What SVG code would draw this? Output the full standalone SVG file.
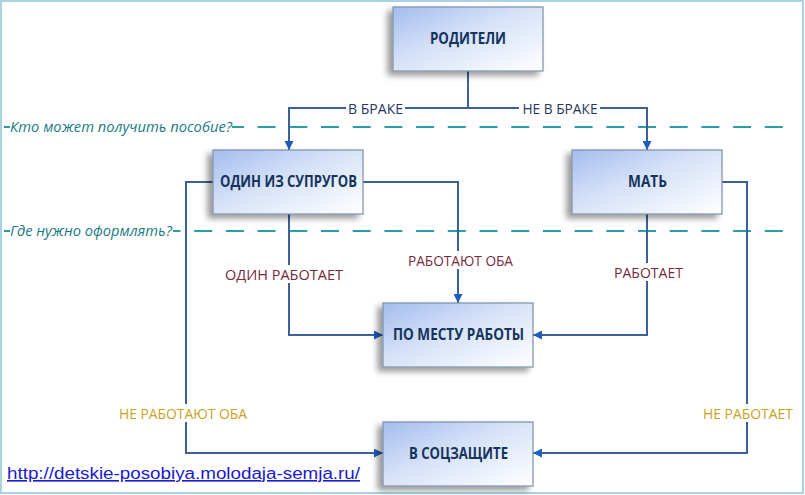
<svg xmlns="http://www.w3.org/2000/svg" width="805" height="495" viewBox="0 0 805 495">
<defs>
<linearGradient id="boxg" x1="0" y1="0" x2="1" y2="1">
<stop offset="0" stop-color="#a4bdee"/>
<stop offset="0.45" stop-color="#d6e2f8"/>
<stop offset="1" stop-color="#ffffff"/>
</linearGradient>
<filter id="sh" x="-20%" y="-20%" width="140%" height="150%">
<feGaussianBlur in="SourceAlpha" stdDeviation="3"/>
<feOffset dx="-5" dy="4" result="b"/>
<feComponentTransfer><feFuncA type="linear" slope="0.4"/></feComponentTransfer>
<feMerge><feMergeNode/><feMergeNode in="SourceGraphic"/></feMerge>
</filter>
<marker id="arr" markerUnits="userSpaceOnUse" markerWidth="10" markerHeight="9" refX="9" refY="4.5" orient="auto">
<path d="M0,0 L9,4.5 L0,9 z" fill="#1f5cbf"/>
</marker>
<style>
.box{fill:url(#boxg);stroke:#7d8fa6;stroke-width:1.2;filter:url(#sh)}
.bt{font-family:"Open Sans","Liberation Sans",sans-serif;font-weight:bold;font-size:15.5px;fill:#14345c;text-anchor:middle}
.conn{fill:none;stroke:#3a6298;stroke-width:2}
.lbl{font-family:"Open Sans","Liberation Sans",sans-serif;font-size:14.5px;text-anchor:middle}
.bg{fill:#ffffff}
.m{fill:#772a3e}
.g{fill:#c9a224}
.n{fill:#1f3864}
.dash{stroke:#2a9ea8;stroke-width:2;stroke-dasharray:18 13.7;fill:none}
.q{font-family:"Open Sans","Liberation Sans",sans-serif;font-style:italic;font-size:15px;fill:#1b7a84}
</style>
</defs>
<rect x="0" y="0" width="805" height="495" fill="#ffffff"/>
<rect x="1" y="1" width="802" height="492" fill="none" stroke="#a9d3e3" stroke-width="2"/>

<g id="guides">
<path class="dash" d="M4 127 H790"/>
<rect class="bg" x="10" y="116" width="222" height="20"/>
<text class="q" x="10" y="132" textLength="222" lengthAdjust="spacingAndGlyphs">Кто может получить пособие?</text>
<path class="dash" d="M4 231 H790"/>
<rect class="bg" x="10" y="220" width="163" height="20"/>
<text class="q" x="10" y="236" textLength="162" lengthAdjust="spacingAndGlyphs">Где нужно оформлять?</text>
</g>

<g id="connectors">
<path class="conn" d="M468 71 V108"/>
<path class="conn" d="M468 108 H289 V150" marker-end="url(#arr)"/>
<path class="conn" d="M468 108 H647 V150" marker-end="url(#arr)"/>
<path class="conn" d="M213 182 H186 V453 H383" marker-end="url(#arr)"/>
<path class="conn" d="M289 214 V335 H383" marker-end="url(#arr)"/>
<path class="conn" d="M363 182 H458 V303" marker-end="url(#arr)"/>
<path class="conn" d="M647 214 V335 H533" marker-end="url(#arr)"/>
<path class="conn" d="M722 182 H747 V453 H533" marker-end="url(#arr)"/>
</g>

<g id="labels">
<rect class="bg" x="346" y="100" width="59" height="16"/>
<text class="lbl n" x="375.5" y="114" textLength="55" lengthAdjust="spacingAndGlyphs">В БРАКЕ</text>
<rect class="bg" x="519" y="100" width="81" height="16"/>
<text class="lbl n" x="560" y="114" textLength="75" lengthAdjust="spacingAndGlyphs">НЕ В БРАКЕ</text>
<rect class="bg" x="222" y="265" width="124" height="18"/>
<text class="lbl m" x="284" y="280" textLength="118" lengthAdjust="spacingAndGlyphs">ОДИН РАБОТАЕТ</text>
<rect class="bg" x="405" y="251" width="111" height="18"/>
<text class="lbl m" x="460.5" y="266" textLength="105" lengthAdjust="spacingAndGlyphs">РАБОТАЮТ ОБА</text>
<rect class="bg" x="611" y="263" width="75" height="18"/>
<text class="lbl m" x="648.5" y="278" textLength="69" lengthAdjust="spacingAndGlyphs">РАБОТАЕТ</text>
<rect class="bg" x="116" y="404" width="134" height="18"/>
<text class="lbl g" x="183" y="419" textLength="128" lengthAdjust="spacingAndGlyphs">НЕ РАБОТАЮТ ОБА</text>
<rect class="bg" x="700" y="404" width="96" height="18"/>
<text class="lbl g" x="748" y="419" textLength="90" lengthAdjust="spacingAndGlyphs">НЕ РАБОТАЕТ</text>
</g>

<g id="node-parents">
<rect class="box" x="393" y="7" width="150" height="64"/>
<text class="bt" x="468" y="44" textLength="76" lengthAdjust="spacingAndGlyphs">РОДИТЕЛИ</text>
</g>
<g id="node-spouse">
<rect class="box" x="213" y="150" width="150" height="64"/>
<text class="bt" x="288.5" y="187" textLength="137" lengthAdjust="spacingAndGlyphs">ОДИН ИЗ СУПРУГОВ</text>
</g>
<g id="node-mother">
<rect class="box" x="572" y="150" width="150" height="64"/>
<text class="bt" x="647.5" y="187" textLength="39" lengthAdjust="spacingAndGlyphs">МАТЬ</text>
</g>
<g id="node-work">
<rect class="box" x="383" y="303" width="150" height="64"/>
<text class="bt" x="458.5" y="340" textLength="131" lengthAdjust="spacingAndGlyphs">ПО МЕСТУ РАБОТЫ</text>
</g>
<g id="node-social">
<rect class="box" x="383" y="422" width="150" height="64"/>
<text class="bt" x="458.5" y="459" textLength="99" lengthAdjust="spacingAndGlyphs">В СОЦЗАЩИТЕ</text>
</g>

<g id="url">
<text x="7" y="479" font-family="'Liberation Sans',Arial,sans-serif" font-size="16" fill="#1a1ad0" text-decoration="underline" textLength="353" lengthAdjust="spacingAndGlyphs">http://detskie-posobiya.molodaja-semja.ru/</text>
</g>
</svg>
